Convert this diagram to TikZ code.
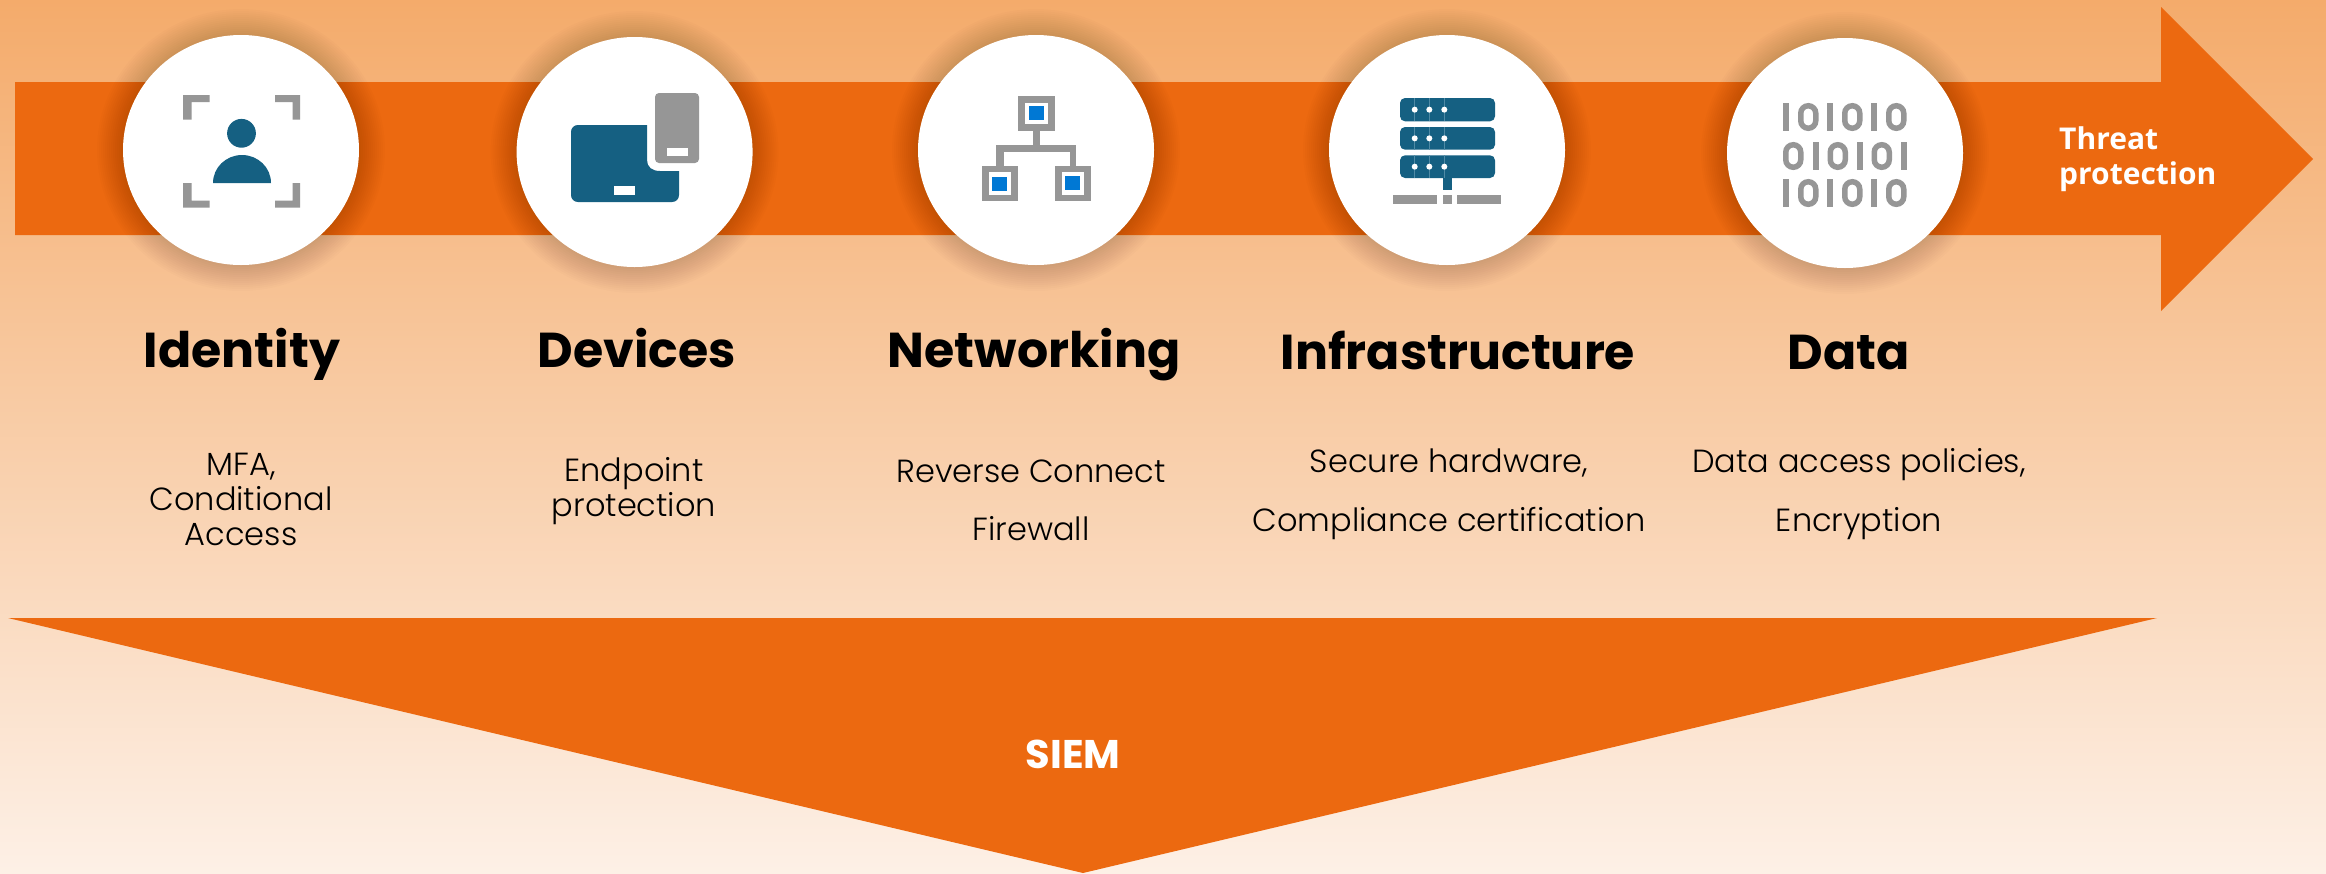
\documentclass[tikz,border=0pt]{standalone}
\usepackage{fontspec}
\usetikzlibrary{shapes.geometric}
\setmainfont{Poppins}
\newfontfamily\headfont{Poppins}[UprightFont=* Bold]
\newfontfamily\bodyfont{Poppins}[UprightFont=* Light]
\newfontfamily\siemfont{Poppins}[UprightFont=* Bold]
\newfontfamily\threatfont{Open Sans}[UprightFont=* Bold]
\definecolor{bgtop}{HTML}{F4AB6B}
\definecolor{bgbot}{HTML}{FDF0E6}
\definecolor{band}{HTML}{EC6910}
\definecolor{navy}{HTML}{156082}
\definecolor{grayi}{HTML}{969696}
\definecolor{bluei}{HTML}{0078D4}
\definecolor{rack}{HTML}{4F8AA5}
\tikzset{
  x=1pt,y=-1pt,
  disc/.style={ellipse,fill=white,minimum width=236pt,minimum height=230pt,inner sep=0pt},
  head/.style={anchor=base,inner sep=0pt,text=black,font=\fontsize{49}{49}\headfont},
  body/.style={anchor=base,inner sep=0pt,text=black,align=center,font=\fontsize{32}{35}\bodyfont},
  bandfill/.style={fill=band},
  graypart/.style={fill=grayi},
  navypart/.style={fill=navy},
  bluepart/.style={fill=bluei},
  whitepart/.style={fill=white},
}
\newcommand{\softshadow}[2]{%
  \foreach \k in {1,...,13}{\fill[black,opacity=0.013] (#1,#2) ellipse[x radius=118+2*\k,y radius=115+2*\k];}}
\newcommand{\rackbar}[2]{%
  \fill[navypart,rounded corners=5pt] (1400,#1) rectangle (1495,#2);
  \foreach \dx in {1414.7,1429.3,1444.3}{
    \draw[rack,line width=0.7pt] (\dx,#1) -- (\dx,#2);
    \fill[white] (\dx,{(#1+#2)/2}) circle[radius=3];}}
\newcommand{\bitone}[2]{\fill[graypart] (#1,#2) rectangle ++(6,28);}
\newcommand{\bitzero}[2]{\draw[grayi,line width=5.5pt,rounded corners=7.5pt] (#1+2.75,#2+2.75) rectangle ++(15,22.5);}
\newcommand{\netbox}[8]{%
  \fill[graypart] (#1,#3) rectangle (#2,#4);
  \fill[whitepart] (#1+7,#3+6.5) rectangle (#2-7,#4-6.5);
  \fill[bluepart] (#5,#7) rectangle (#6,#8);}
\begin{document}
\begin{tikzpicture}
\useasboundingbox (0,0) rectangle (2326,873);
\shade[top color=bgtop,bottom color=bgbot] (0,0) rectangle (2326,873);
% main arrow and SIEM wedge
\fill[bandfill] (15,82) -- (2161,82) -- (2161,7) -- (2313,159) -- (2161,311) -- (2161,235) -- (15,235) -- cycle;
\fill[bandfill] (8,618) -- (2157,618) -- (1083,873) -- cycle;
% circles
\softshadow{241}{150}
\softshadow{634.6}{152}
\softshadow{1036}{150}
\softshadow{1447}{150}
\softshadow{1845}{153}
\node[disc] (cidentity) at (241,150) {};
\node[disc] (cdevices) at (634.6,152) {};
\node[disc] (cnetwork) at (1036,150) {};
\node[disc] (cinfra) at (1447,150) {};
\node[disc] (cdata) at (1845,153) {};
% identity icon
\fill[graypart] (183,95) -- (209.5,95) -- (209.5,102) -- (191.5,102) -- (191.5,119.5) -- (183,119.5) -- cycle;
\fill[graypart] (300,95) -- (275,95) -- (275,102) -- (292.5,102) -- (292.5,119.5) -- (300,119.5) -- cycle;
\fill[graypart] (183,207.5) -- (209.5,207.5) -- (209.5,200.5) -- (191.5,200.5) -- (191.5,183) -- (183,183) -- cycle;
\fill[graypart] (300,207.5) -- (275,207.5) -- (275,200.5) -- (292.5,200.5) -- (292.5,183) -- (300,183) -- cycle;
\fill[navypart] (241.5,133.3) circle[radius=14.4];
\fill[navypart] (213,183) arc[start angle=180,end angle=0,x radius=29,y radius=-28] -- cycle;
% devices icon
\fill[navypart] (578,125) -- (647,125) -- (647,160) .. controls (647,167) and (652,171) .. (660,171) -- (679,171) -- (679,195) .. controls (679,199) and (676,202) .. (672,202) -- (578,202) .. controls (574,202) and (571,199) .. (571,195) -- (571,132) .. controls (571,128) and (574,125) .. (578,125) -- cycle;
\fill[whitepart] (614,186) rectangle (635,195);
\fill[graypart,rounded corners=4pt] (655,93) rectangle (699,163);
\fill[whitepart] (667,148) rectangle (688,156);
% network icon
\fill[graypart] (1033,130) rectangle (1040,146);
\fill[graypart] (996.4,145) rectangle (1076,151.7);
\fill[graypart] (996.4,145) rectangle (1003.6,166);
\fill[graypart] (1069.6,145) rectangle (1076,166);
\netbox{1018}{1054.5}{96}{130.7}{1029}{1044.2}{106}{120}
\netbox{982}{1018}{165.7}{201}{992}{1007}{176.7}{191}
\netbox{1054.5}{1091}{165.7}{201}{1065}{1080}{176}{190}
% infrastructure icon
\rackbar{98}{121.3}
\rackbar{127}{149.7}
\rackbar{155.3}{178}
\fill[navypart] (1443,178) rectangle (1452,190);
\fill[graypart] (1393,195) rectangle (1437,204);
\fill[graypart] (1443,195) rectangle (1452,204);
\fill[graypart] (1457,195) rectangle (1501,204);
% data icon
\bitone{1783}{103}\bitzero{1798}{103}\bitone{1827}{103}\bitzero{1842}{103}\bitone{1871}{103}\bitzero{1886}{103}
\bitzero{1783}{142}\bitone{1813}{142}\bitzero{1827.5}{142}\bitone{1857}{142}\bitzero{1871.5}{142}\bitone{1901}{142}
\bitone{1783}{179}\bitzero{1798}{179}\bitone{1827}{179}\bitzero{1842}{179}\bitone{1871}{179}\bitzero{1886}{179}
% headings
\node[head] (hidentity) at (242,367) {Identity};
\node[head] (hdevices) at (637,367) {Devices};
\node[head] (hnetwork) at (1034,367) {Networking};
\node[head] (hinfra) at (1458,369) {Infrastructure};
\node[head] (hdata) at (1849,369) {Data};
% descriptions (a node's base is the baseline of its last line)
\node[body] (bidentity) at (241,545) {MFA,\\Conditional\\Access};
\node[body] (bdevices) at (634,516) {Endpoint\\protection};
\node[body,font=\fontsize{32}{58}\bodyfont] (bnetwork) at (1031,540) {Reverse Connect\\Firewall};
\node[body,font=\fontsize{32}{59}\bodyfont] (binfra) at (1449,531) {Secure hardware,\\Compliance certification};
\node[body,font=\fontsize{32}{59}\bodyfont] (bdata) at (1859,531) {Data access policies,\\Encryption};
% labels on the orange shapes
\node[anchor=base,inner sep=0pt,text=white,font=\fontsize{40}{40}\siemfont] (siem) at (1073,768) {SIEM};
\node[anchor=base west,inner sep=0pt,text=white,align=left,font=\fontsize{30}{35}\threatfont] (threat) at (2059,184) {Threat\\protection};
\end{tikzpicture}
\end{document}
